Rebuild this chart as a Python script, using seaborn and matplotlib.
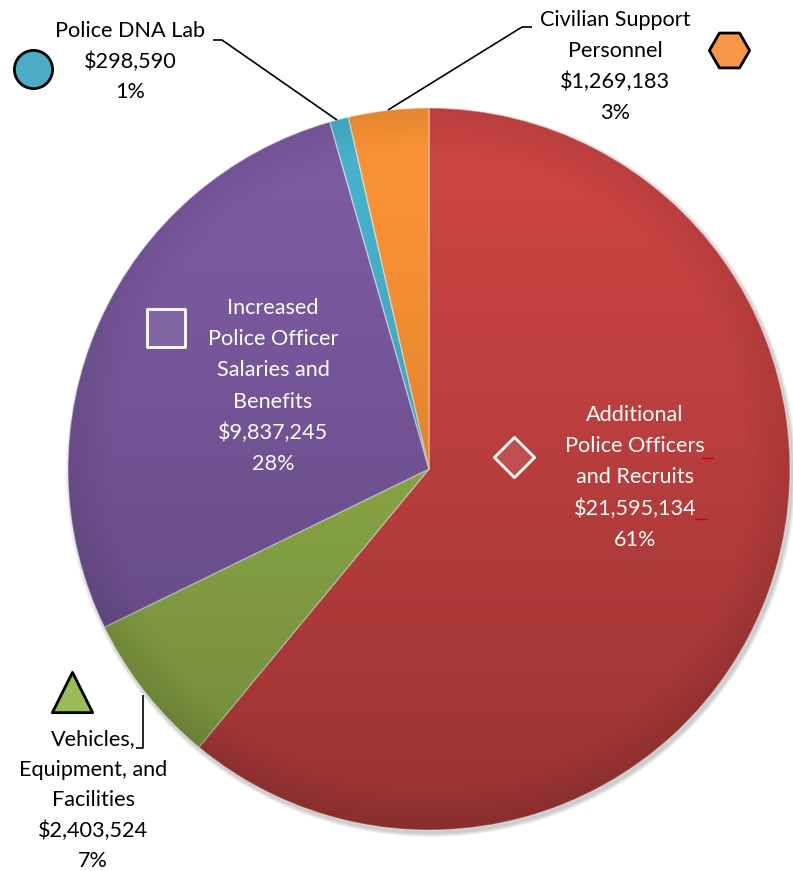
import matplotlib
matplotlib.use("Agg")
import matplotlib.pyplot as plt
import numpy as np
import seaborn as sns
import pandas as pd
from matplotlib.patches import Circle

# ---- data ----
categories = ["Additional Police Officers and Recruits",
              "Vehicles, Equipment, and Facilities",
              "Increased Police Officer Salaries and Benefits",
              "Police DNA Lab",
              "Civilian Support Personnel"]
values = [21595134, 2403524, 9837245, 298590, 1269183]
value_labels = ["$21,595,134", "$2,403,524", "$9,837,245", "$298,590", "$1,269,183"]
percent_labels = ["61%", "7%", "28%", "1%", "3%"]
name_lines = [["Additional", "Police Officers", "and Recruits"],
              ["Vehicles,", "Equipment, and", "Facilities"],
              ["Increased", "Police Officer", "Salaries and", "Benefits"],
              ["Police DNA Lab"],
              ["Civilian Support", "Personnel"]]
slice_colors = ["#CA4443", "#94B44C", "#7C5AA2", "#46B1CC", "#F99234"]
marker_colors = ["#C0504D", "#9BBB59", "#8064A2", "#4BACC6", "#F79646"]

sns.set_theme(style="white")
plt.rcParams['font.family'] = ['Lato', 'DejaVu Sans']

W, H = 793, 871
fig = plt.figure(figsize=(W / 100, H / 100), dpi=100)
ax = fig.add_axes([0, 0, 1, 1])

cx, cy, R = 429, 469, 361

# soft shadow
for i in range(4):
    ax.add_patch(Circle((cx + 2, cy + 3), R + 4 - i, color="black", alpha=0.05, lw=0, zorder=0))

wedges, _ = ax.pie(values, colors=slice_colors, startangle=-90, counterclock=True,
                   center=(cx, cy), radius=R,
                   wedgeprops=dict(edgecolor=(1, 1, 1, 0.45), linewidth=1.0))
for w in wedges:
    w.set_zorder(1)

# shading overlay: darker toward the bottom and near the rim
n = 400
yy, xx = np.mgrid[0:n, 0:n] / (n - 1)
rgba = np.zeros((n, n, 4))
alpha = 0.25 * np.clip((yy - 0.1) / 0.9, 0, 1) ** 1.2
rr = np.hypot(xx - 0.5, yy - 0.5) * 2
alpha += np.clip((rr - 0.88) / 0.12, 0, 1) * 0.08
rgba[..., 3] = alpha
img = ax.imshow(rgba, extent=(cx - R, cx + R, cy + R, cy - R), origin="upper", zorder=2,
                interpolation="bilinear")
clip = Circle((cx, cy), R, transform=ax.transData)
img.set_clip_path(clip)

fs = 15.6

def put_lines(lines, x, y0, dy, color):
    for i, s in enumerate(lines):
        ax.text(x, y0 + i * dy, s, ha="center", va="center", fontsize=fs, color=color, zorder=5)

label_pos = [(635, 415, 31.2, "white"),
             (93, 739, 30.5, "black"),
             (273, 308, 31.2, "white"),
             (130, 31, 30.5, "black"),
             (615, 20, 31, "black")]
for k in range(5):
    x, y0, dy, c = label_pos[k]
    put_lines(name_lines[k] + [value_labels[k], percent_labels[k]], x, y0, dy, c)

# legend-like markers
marker_df = pd.DataFrame({
    "x": [514, 72, 166, 33, 729],
    "y": [457, 692, 328, 69, 50],
    "cat": categories,
})
marker_shapes = ["D", "^", "s", "o", "H"]
marker_sizes = [20.5, 29, 28, 27.5, 29]
marker_edges = ["white", "black", "white", "black", "black"]
for i in range(5):
    sns.scatterplot(data=marker_df.iloc[[i]], x="x", y="y", ax=ax, marker=marker_shapes[i],
                    s=marker_sizes[i] ** 2, color=marker_colors[i], edgecolor=marker_edges[i],
                    linewidth=2.0, zorder=6, legend=False)

ax.set_xlim(0, W)
ax.set_ylim(H, 0)
ax.set_aspect("equal")
ax.axis("off")

# leader lines
lk = dict(color="black", lw=1.2, zorder=4, solid_capstyle="butt")
ax.plot([213, 222, 337], [40, 40, 120], **lk)
ax.plot([522, 532], [27, 27], **lk)
ax.plot([522, 388], [27, 110], **lk)
ax.plot([143, 143, 136], [695, 748, 748], **lk)

# small red underscores
ax.plot([702, 713], [458, 458], color="#CC0000", lw=1, zorder=5)
ax.plot([695, 707], [519, 519], color="#CC0000", lw=1, zorder=5)

fig.savefig("out.png", dpi=100, facecolor="white")
